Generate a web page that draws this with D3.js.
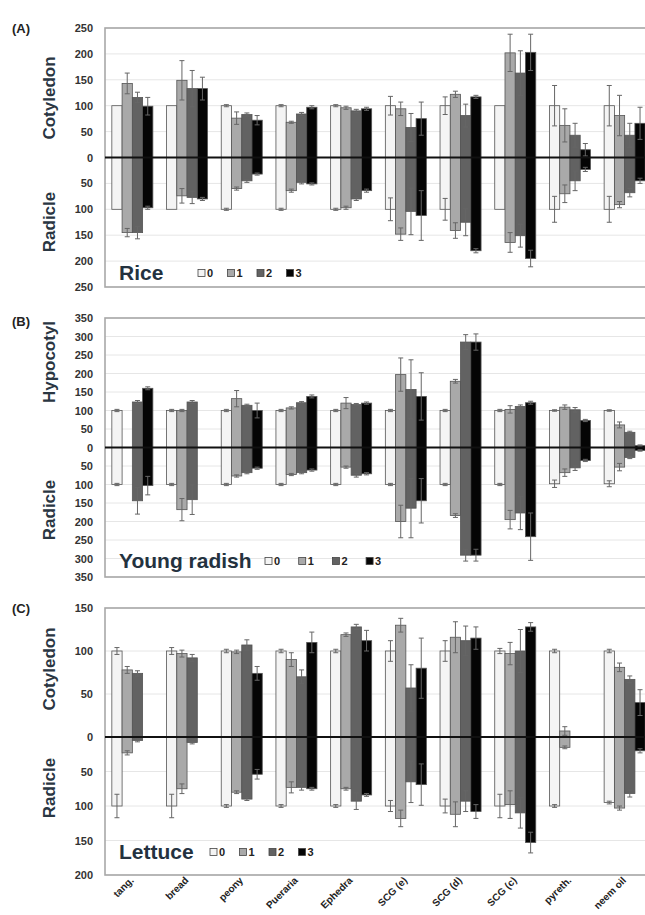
<!DOCTYPE html>
<html>
<head>
<meta charset="utf-8">
<script src="https://cdn.jsdelivr.net/npm/d3@7"></script>
<style>
  body { margin: 0; background: #fff; }
  text { font-family: Arial, "Liberation Sans", sans-serif; }
</style>
</head>
<body>
<svg id="chart" width="645" height="915"></svg>
<script>
// categories and series
var categories = ["tang.", "bread", "peony", "Pueraria", "Ephedra", "SCG (e)", "SCG (d)", "SCG (c)", "pyreth.", "neem oil"];
var levels = ["0", "1", "2", "3"];
var levelColors = ["#f4f4f4", "#a9a9a9", "#626262", "#050505"];

// (A) rice : cotyledon up, radicle down (% of control)
var riceUp     = [[100,143,116,99],[100,149,133,133],[100,76,83,72],[100,68,84,97],[100,96,90,94],[100,94,58,75],[100,122,81,117],[100,202,163,203],[100,62,43,15],[100,81,43,66]];
var riceUpErr  = [[0,20,10,17],[0,38,35,22],[2,12,3,9],[2,2,3,3],[2,3,3,3],[18,13,27,32],[17,6,22,3],[0,36,43,35],[39,32,23,12],[39,39,23,31]];
var riceDown    = [[100,145,145,97],[100,74,77,80],[100,60,45,32],[100,64,48,51],[100,97,80,64],[100,148,104,112],[100,141,125,180],[100,164,151,195],[100,70,45,23],[100,91,68,45]];
var riceDownErr = [[0,8,12,3],[0,14,12,3],[2,3,3,2],[2,3,3,2],[2,3,3,3],[22,12,45,48],[21,15,26,4],[0,19,22,16],[25,17,19,4],[25,6,8,5]];
var riceTicks = [250,200,150,100,50,0,-50,-100,-150,-200,-250];

// (B) young radish : hypocotyl up, radicle down
var radishUp     = [[100,0,123,160],[100,100,123,0],[100,132,114,100],[100,107,121,138],[100,120,116,120],[100,197,157,138],[100,179,285,285],[100,103,111,121],[100,109,102,73],[100,61,41,5]];
var radishUpErr  = [[3,0,4,4],[3,3,4,0],[3,22,3,20],[3,3,3,4],[3,15,3,3],[3,45,80,64],[3,5,20,22],[3,10,4,4],[2,6,6,3],[2,8,3,2]];
var radishDown    = [[100,0,144,103],[100,168,141,0],[100,77,68,56],[100,73,68,61],[100,53,75,71],[100,200,164,144],[100,184,291,291],[100,195,177,241],[98,68,55,35],[98,53,27,8]];
var radishDownErr = [[3,0,36,25],[3,30,40,0],[3,3,3,3],[3,3,3,3],[3,3,5,3],[3,44,80,60],[3,5,16,16],[3,25,45,64],[10,10,7,3],[8,10,3,2]];
var radishTicks = [350,300,250,200,150,100,50,0,-50,-100,-150,-200,-250,-300,-350];

// (C) lettuce : cotyledon up, radicle down
var lettuceUp     = [[100,78,74,0],[100,97,92,0],[100,99,107,74],[100,90,70,110],[100,119,128,112],[100,130,57,80],[100,116,112,115],[100,97,100,128],[100,7,0,0],[100,81,67,40]];
var lettuceUpErr  = [[4,4,3,0],[4,4,4,0],[2,2,6,8],[2,8,8,12],[2,2,3,12],[12,8,27,35],[12,18,17,13],[3,13,25,5],[2,5,0,0],[2,5,4,15]];
var lettuceDown    = [[100,23,5,0],[100,75,8,0],[100,80,90,54],[100,73,73,75],[100,75,93,84],[100,118,65,69],[100,112,93,108],[100,98,110,153],[100,15,0,0],[95,103,82,20]];
var lettuceDownErr = [[17,3,2,0],[17,7,2,0],[2,2,2,7],[2,8,4,2],[2,2,12,2],[8,12,30,30],[10,18,15,10],[17,20,22,15],[2,2,0,0],[2,3,5,3]];
var lettuceTicks = [150,100,50,0,-50,-100,-150,-200];

var panelLetters = ["(A)", "(B)", "(C)"];
var cropNames = ["Rice", "Young radish", "Lettuce"];
var upperTitles = ["Cotyledon", "Hypocotyl", "Cotyledon"];
var lowerTitle = "Radicle";

var svg = d3.select("#chart");
var plotLeft = 105, plotRight = 652;

var x0 = d3.scaleBand()
    .domain(categories)
    .range([plotLeft, plotRight])
    .paddingInner(0.25)
    .paddingOuter(0.125);
var x1 = d3.scaleBand()
    .domain(levels)
    .range([0, x0.bandwidth()]);

var panels = [
    {up: riceUp, upErr: riceUpErr, down: riceDown, downErr: riceDownErr, ticks: riceTicks,
     y: d3.scaleLinear().domain([250, -250]).range([28, 287]),
     letterY: 33, upTitleY: 98, lowTitleY: 222, cropY: 280, legendX: 198, legendStep: 29.5},
    {up: radishUp, upErr: radishUpErr, down: radishDown, downErr: radishDownErr, ticks: radishTicks,
     y: d3.scaleLinear().domain([350, -350]).range([318, 577]),
     letterY: 326, upTitleY: 362, lowTitleY: 510, cropY: 568, legendX: 265, legendStep: 33.7},
    {up: lettuceUp, upErr: lettuceUpErr, down: lettuceDown, downErr: lettuceDownErr, ticks: lettuceTicks,
     y: d3.scaleLinear().domain([150, 0, -200]).range([608, 737, 875]),
     letterY: 613, upTitleY: 669, lowTitleY: 788, cropY: 859, legendX: 210, legendStep: 29.5}
];

panels.forEach(function(p, pi) {
    var y = p.y;
    var g = svg.append("g").attr("class", "panel" + pi);
    var top = y.range()[0], bottom = y.range()[y.range().length - 1];

    // gridlines
    g.selectAll("line.grid")
        .data(p.ticks)
        .enter().append("line")
        .attr("class", "grid")
        .attr("x1", plotLeft).attr("x2", plotRight)
        .attr("y1", d => y(d)).attr("y2", d => y(d))
        .attr("stroke", "#e6e6e6").attr("stroke-width", 1);

    // frame
    g.append("rect")
        .attr("x", plotLeft).attr("y", top)
        .attr("width", plotRight - plotLeft).attr("height", bottom - top)
        .attr("fill", "none").attr("stroke", "#a8a8a8").attr("stroke-width", 1.6);

    // tick labels (absolute values on both sides)
    var axis = d3.axisLeft(y).tickValues(p.ticks).tickSize(0).tickPadding(0)
        .tickFormat(d => Math.abs(d));
    var ag = g.append("g").attr("transform", "translate(93,0)").call(axis);
    ag.select(".domain").remove();
    ag.selectAll("text")
        .attr("font-size", 11).attr("font-weight", "bold").attr("fill", "#333")
        .style("font-family", "Arial, 'Liberation Sans', sans-serif");

    // flatten data
    var rows = [];
    categories.forEach(function(c, ci) {
        levels.forEach(function(l, li) {
            rows.push({cat: c, lev: l, li: li,
                up: p.up[ci][li], upErr: p.upErr[ci][li],
                down: p.down[ci][li], downErr: p.downErr[ci][li]});
        });
    });

    var bars = g.selectAll("g.bar").data(rows).enter().append("g").attr("class", "bar");

    bars.filter(d => d.up > 0).append("rect")
        .attr("x", d => x0(d.cat) + x1(d.lev))
        .attr("width", x1.bandwidth())
        .attr("y", d => y(d.up))
        .attr("height", d => y(0) - y(d.up))
        .attr("fill", d => levelColors[d.li])
        .attr("stroke", "#555").attr("stroke-width", 0.8);

    bars.filter(d => d.down > 0).append("rect")
        .attr("x", d => x0(d.cat) + x1(d.lev))
        .attr("width", x1.bandwidth())
        .attr("y", y(0))
        .attr("height", d => y(-d.down) - y(0))
        .attr("fill", d => levelColors[d.li])
        .attr("stroke", "#555").attr("stroke-width", 0.8);

    // error bars
    function errBar(sel, val, err) {
        var e = sel.filter(d => d[err] > 0 && Math.abs(d[val]) > 0);
        var cx = d => x0(d.cat) + x1(d.lev) + x1.bandwidth() / 2;
        e.append("line")
            .attr("x1", cx).attr("x2", cx)
            .attr("y1", d => y(d[val] - d[err])).attr("y2", d => y(d[val] + d[err]))
            .attr("stroke", "#666").attr("stroke-width", 1);
        [-1, 1].forEach(function(s) {
            e.append("line")
                .attr("x1", d => cx(d) - 2.5).attr("x2", d => cx(d) + 2.5)
                .attr("y1", d => y(d[val] + s * d[err])).attr("y2", d => y(d[val] + s * d[err]))
                .attr("stroke", "#666").attr("stroke-width", 1);
        });
    }
    bars.each(function(d) { d.neg = -d.down; });
    errBar(bars, "up", "upErr");
    errBar(bars, "neg", "downErr");

    // zero line
    g.append("line")
        .attr("x1", plotLeft).attr("x2", plotRight)
        .attr("y1", y(0)).attr("y2", y(0))
        .attr("stroke", "#111").attr("stroke-width", 2);

    // texts
    g.append("text").attr("x", 12).attr("y", p.letterY)
        .attr("font-size", 13).attr("font-weight", "bold").attr("fill", "#222")
        .text(panelLetters[pi]);

    [[upperTitles[pi], p.upTitleY], [lowerTitle, p.lowTitleY]].forEach(function(t) {
        g.append("text")
            .attr("transform", "translate(55," + t[1] + ") rotate(-90)")
            .attr("text-anchor", "middle")
            .attr("font-size", 17).attr("font-weight", "bold").attr("fill", "#2a3642")
            .text(t[0]);
    });

    g.append("text").attr("x", 119).attr("y", p.cropY)
        .attr("font-size", 21).attr("font-weight", "bold").attr("fill", "#24323f")
        .text(cropNames[pi]);

    var lg = g.selectAll("g.legend").data(levels).enter().append("g")
        .attr("transform", (d, i) => "translate(" + (p.legendX + i * p.legendStep) + "," + (p.cropY - 7) + ")");
    lg.append("rect").attr("x", 0).attr("y", -3.5).attr("width", 7).attr("height", 7)
        .attr("fill", (d, i) => levelColors[i]).attr("stroke", "#444").attr("stroke-width", 0.8);
    lg.append("text").attr("x", 9).attr("y", 4)
        .attr("font-size", 11).attr("font-weight", "bold").attr("fill", "#222")
        .text(d => d);
});

// category labels under the last panel
svg.selectAll("text.cat")
    .data(categories)
    .enter().append("text")
    .attr("class", "cat")
    .attr("text-anchor", "end")
    .attr("font-size", 10).attr("font-weight", "bold").attr("fill", "#222")
    .attr("transform", d => "translate(" + (x0(d) + x0.bandwidth() / 2 + 2) + ",881) rotate(-45)")
    .text(d => d);
</script>
</body>
</html>
